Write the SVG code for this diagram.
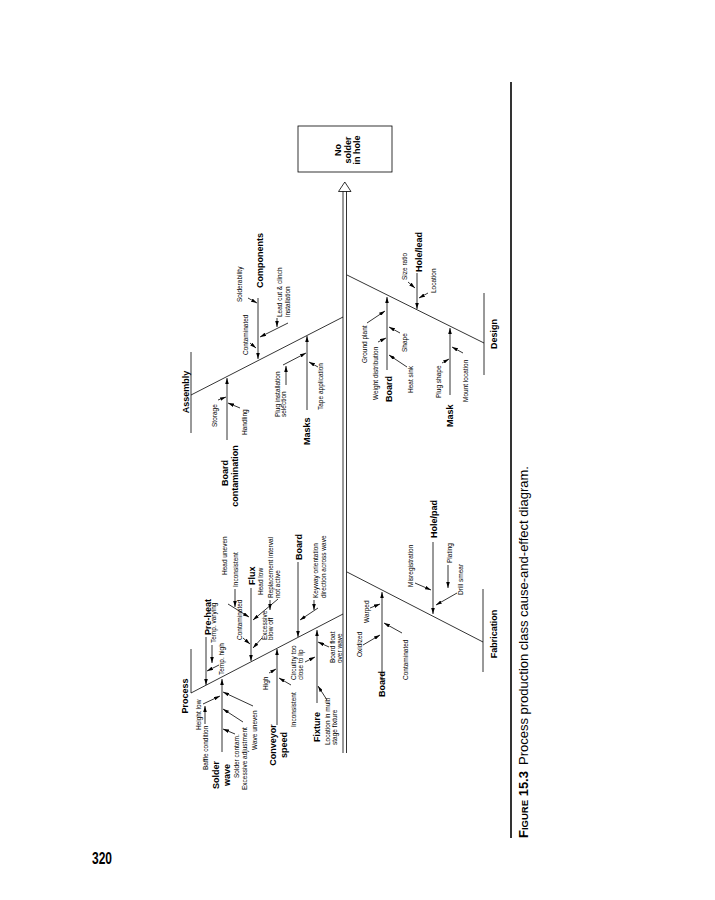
<svg xmlns="http://www.w3.org/2000/svg" width="715" height="900" viewBox="0 0 715 900">
<style>
.l{fill:none;stroke:#000;stroke-width:0.8}
.a{fill:none;stroke:#000;stroke-width:0.8;marker-end:url(#ah)}
.s{font-family:"Liberation Sans",Arial,sans-serif;font-size:6.5px;fill:#000}
.b{font-family:"Liberation Sans",Arial,sans-serif;font-size:9px;font-weight:bold;fill:#000}
.m{text-anchor:middle}
</style>
<defs>
<marker id="ah" viewBox="0 0 10 6" refX="10" refY="3" markerWidth="6" markerHeight="3.6" markerUnits="userSpaceOnUse" orient="auto"><path d="M0,0 L10,3 L0,6 z" fill="#000"/></marker>
</defs>
<rect width="715" height="900" fill="#fff"/>
<g id="connectors">
<line class="l" x1="343" y1="191" x2="343" y2="753"/>
<line class="l" x1="346.5" y1="191" x2="346.5" y2="753"/>
<polygon points="344.8,182 338.5,191.5 351,191.5" fill="#fff" stroke="#000" stroke-width="0.8"/>
<path class="l" d="M191,649V693L343,614"/>
<path class="l" d="M191,352V433M191,395L343,317"/>
<path class="l" d="M484,293V375M347,275L484,343"/>
<path class="l" d="M483,589V672M347,572L483,642"/>
<!-- process -->
<path class="a" d="M222,752V679"/>
<path class="a" d="M203,704L220,696"/>
<path class="a" d="M205,724V706"/>
<path class="a" d="M235,734L223,729"/>
<path class="a" d="M243,722L223,709"/>
<path class="a" d="M253,706L223,692"/>
<path class="a" d="M277,725V649"/>
<path class="a" d="M269,673L276,669"/>
<path class="a" d="M291,685L279,678"/>
<path class="a" d="M206,637V685"/>
<path class="a" d="M212,645V663"/>
<path class="a" d="M219,665L207,671"/>
<path class="a" d="M251,588V661"/>
<path class="a" d="M228,604L249,617"/>
<path class="a" d="M235,589V607"/>
<path class="a" d="M243,638L250,644"/>
<path class="a" d="M278,599L253,620"/>
<path class="a" d="M270,600V610"/>
<path class="a" d="M262,638L253,648"/>
<path class="a" d="M298,562V637"/>
<path class="a" d="M314,600V610"/>
<path class="a" d="M318,608L300,620"/>
<path class="a" d="M317,703V630"/>
<path class="a" d="M327,700L318,686"/>
<path class="a" d="M305,662L315,657"/>
<path class="a" d="M329,647L318,642"/>
<!-- assembly -->
<path class="a" d="M227,440V378"/>
<path class="a" d="M218,400L226,397"/>
<path class="a" d="M240,408L228,403"/>
<path class="a" d="M307,410V336"/>
<path class="a" d="M286,385V366"/>
<path class="a" d="M283,365L306,353"/>
<path class="a" d="M318,367L309,362"/>
<path class="a" d="M258,298V359"/>
<path class="a" d="M248,298L257,303"/>
<path class="a" d="M277,318V327"/>
<path class="a" d="M288,323L260,337"/>
<path class="a" d="M250,343L256,348"/>
<!-- design -->
<path class="a" d="M417,273V309"/>
<path class="a" d="M408,282L415,288"/>
<path class="a" d="M428,293L419,298"/>
<path class="a" d="M387,370V297"/>
<path class="a" d="M367,323L385,311"/>
<path class="a" d="M378,342L386,338"/>
<path class="a" d="M400,333L389,327"/>
<path class="a" d="M407,367L389,355"/>
<path class="a" d="M450,395V328"/>
<path class="a" d="M442,363L449,359"/>
<path class="a" d="M463,353L452,347"/>
<!-- fabrication -->
<path class="a" d="M433,542V614"/>
<path class="a" d="M415,583L431,590"/>
<path class="a" d="M448,565V588"/>
<path class="a" d="M457,593L436,605"/>
<path class="a" d="M382,680V592"/>
<path class="a" d="M363,645L380,635"/>
<path class="a" d="M370,608L380,604"/>
<path class="a" d="M402,633L384,623"/>
</g>
<g id="head">
<rect x="298" y="126" width="94" height="46" fill="#fff" stroke="#000" stroke-width="0.8"/>
<text class="b m" transform="translate(341,150) rotate(-90)">No</text>
<text class="b m" transform="translate(350.5,150) rotate(-90)">solder</text>
<text class="b m" transform="translate(360,150) rotate(-90)">in hole</text>
</g>
<g id="process">
<text class="b m" transform="translate(188,696) rotate(-90)">Process</text>
<text class="b m" transform="translate(219,775) rotate(-90)">Solder</text>
<text class="b m" transform="translate(230,775) rotate(-90)">wave</text>
<text class="s" transform="translate(201,730) rotate(-90)">Height low</text>
<text class="s" transform="translate(208,770) rotate(-90)">Baffle condition</text>
<text class="s" transform="translate(239,778) rotate(-90)">Solder contam.</text>
<text class="s" transform="translate(247,790) rotate(-90)">Excessive adjustment</text>
<text class="s" transform="translate(257,750) rotate(-90)">Wave uneven</text>
<text class="b m" transform="translate(276,745) rotate(-90)">Conveyor</text>
<text class="b m" transform="translate(287,745) rotate(-90)">speed</text>
<text class="s" transform="translate(268,690) rotate(-90)">High</text>
<text class="s" transform="translate(296,727) rotate(-90)">Inconsistent</text>
<text class="b" transform="translate(211,635) rotate(-90)">Pre-heat</text>
<text class="s" transform="translate(216,643) rotate(-90)">Temp. varying</text>
<text class="s" transform="translate(224,675) rotate(-90)">Temp. high</text>
<text class="b" transform="translate(255,585) rotate(-90)">Flux</text>
<text class="s" transform="translate(227,575) rotate(-90)">Head uneven</text>
<text class="s" transform="translate(238,587) rotate(-90)">Inconsistent</text>
<text class="s" transform="translate(242,640) rotate(-90)">Contaminated</text>
<text class="s" transform="translate(263,595) rotate(-90)">Head low</text>
<text class="s" transform="translate(273,598) rotate(-90)">Replacement interval</text>
<text class="s" transform="translate(280,598) rotate(-90)">not active</text>
<text class="s" transform="translate(267,640) rotate(-90)">Excessive</text>
<text class="s" transform="translate(273,640) rotate(-90)">blow off</text>
<text class="b" transform="translate(302,560) rotate(-90)">Board</text>
<text class="s" transform="translate(318,598) rotate(-90)">Keyway orientation</text>
<text class="s" transform="translate(326,598) rotate(-90)">direction across wave</text>
<text class="b" transform="translate(320,742) rotate(-90)">Fixture</text>
<text class="s" transform="translate(330,745) rotate(-90)">Location in multi</text>
<text class="s" transform="translate(337,745) rotate(-90)">stage fixture</text>
<text class="s" transform="translate(296,680) rotate(-90)">Circuitry too</text>
<text class="s" transform="translate(303,680) rotate(-90)">close to lip</text>
<text class="s" transform="translate(335,663) rotate(-90)">Board float</text>
<text class="s" transform="translate(342,663) rotate(-90)">over wave</text>
</g>
<g id="assembly">
<text class="b m" transform="translate(189,392) rotate(-90)">Assembly</text>
<text class="b m" transform="translate(228,473) rotate(-90)">Board</text>
<text class="b m" transform="translate(238,476) rotate(-90)">contamination</text>
<text class="s" transform="translate(217,427) rotate(-90)">Storage</text>
<text class="s" transform="translate(247,435) rotate(-90)">Handling</text>
<text class="b" transform="translate(310,445) rotate(-90)">Masks</text>
<text class="s" transform="translate(280,417) rotate(-90)">Plug installation</text>
<text class="s" transform="translate(286,417) rotate(-90)">selection</text>
<text class="s" transform="translate(323,410) rotate(-90)">Tape application</text>
<text class="b" transform="translate(263,288) rotate(-90)">Components</text>
<text class="s" transform="translate(242,302) rotate(-90)">Solderability</text>
<text class="s" transform="translate(282,317) rotate(-90)">Lead cut &amp; clinch</text>
<text class="s" transform="translate(290,317) rotate(-90)">installation</text>
<text class="s" transform="translate(248,355) rotate(-90)">Contaminated</text>
</g>
<g id="design">
<text class="b m" transform="translate(497,334) rotate(-90)">Design</text>
<text class="b" transform="translate(422,272) rotate(-90)">Hole/lead</text>
<text class="s" transform="translate(407,280) rotate(-90)">Size ratio</text>
<text class="s" transform="translate(436,293) rotate(-90)">Location</text>
<text class="b" transform="translate(392,402) rotate(-90)">Board</text>
<text class="s" transform="translate(367,363) rotate(-90)">Ground plant</text>
<text class="s" transform="translate(378,400) rotate(-90)">Weight distribution</text>
<text class="s" transform="translate(407,352) rotate(-90)">Shape</text>
<text class="s" transform="translate(413,393) rotate(-90)">Heat sink</text>
<text class="b" transform="translate(453,427) rotate(-90)">Mask</text>
<text class="s" transform="translate(441,398) rotate(-90)">Plug shape</text>
<text class="s" transform="translate(468,402) rotate(-90)">Mount location</text>
</g>
<g id="fabrication">
<text class="b m" transform="translate(497,634) rotate(-90)">Fabrication</text>
<text class="b" transform="translate(437,538) rotate(-90)">Hole/pad</text>
<text class="s" transform="translate(413,587) rotate(-90)">Misregistration</text>
<text class="s" transform="translate(452,563) rotate(-90)">Plating</text>
<text class="s" transform="translate(463,595) rotate(-90)">Drill smear</text>
<text class="b" transform="translate(385,697) rotate(-90)">Board</text>
<text class="s" transform="translate(362,657) rotate(-90)">Oxidized</text>
<text class="s" transform="translate(369,623) rotate(-90)">Warped</text>
<text class="s" transform="translate(408,680) rotate(-90)">Contaminated</text>
</g>
<g id="page">
<line x1="511" y1="82" x2="511" y2="838" stroke="#000" stroke-width="1.6"/>
<text transform="translate(528,838) rotate(-90)" style="font-family:'Liberation Sans',Arial,sans-serif;font-size:13px;fill:#000"><tspan font-weight="bold">F</tspan><tspan font-weight="bold" font-size="9.5px">IGURE</tspan><tspan font-weight="bold"> 15.3</tspan><tspan dx="6">Process production class cause-and-effect diagram.</tspan></text>
<text x="102" y="864" text-anchor="middle" textLength="20" lengthAdjust="spacingAndGlyphs" style="font-family:'Liberation Sans',Arial,sans-serif;font-size:17px;font-weight:bold;fill:#000">320</text>
</g>
</svg>
